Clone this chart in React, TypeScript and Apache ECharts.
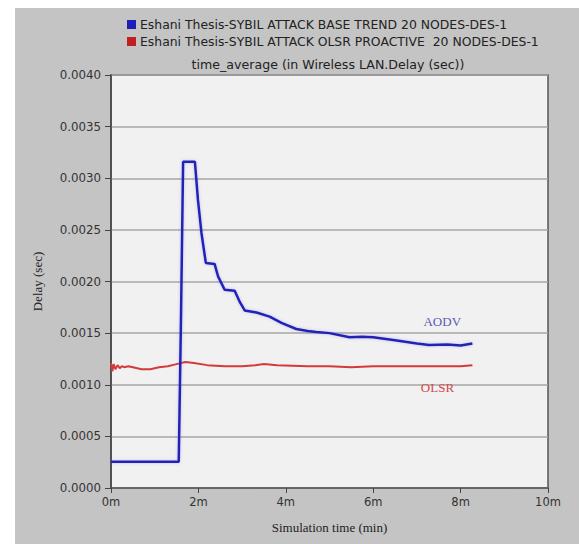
import React, { useEffect, useRef } from "react";
import * as echarts from "echarts";

const legendNames = [
  "Eshani Thesis-SYBIL ATTACK BASE TREND 20 NODES-DES-1",
  "Eshani Thesis-SYBIL ATTACK OLSR PROACTIVE  20 NODES-DES-1",
];
const chartTitle = "time_average (in Wireless LAN.Delay (sec))";
const xAxisName = "Simulation time (min)";
const yAxisName = "Delay (sec)";

const aodvTimes = [0, 1.55, 1.6, 1.65, 1.92, 1.99, 2.07, 2.17, 2.37, 2.45, 2.6, 2.83, 2.95, 3.06, 3.33, 3.63, 3.9, 4.24, 4.5, 4.7, 5.0, 5.46, 5.75, 6.0, 6.5, 7.0, 7.28, 7.7, 8.0, 8.27];
const aodvDelay = [0.000255, 0.000255, 0.0016, 0.00316, 0.00316, 0.00279, 0.00247, 0.00218, 0.00217, 0.00205, 0.00192, 0.00191, 0.0018, 0.00172, 0.0017, 0.00166, 0.0016, 0.00154, 0.00152, 0.00151, 0.0015, 0.00146, 0.001466, 0.00146, 0.00143, 0.0014, 0.001385, 0.00139, 0.00138, 0.0014];

const olsrTimes = [0, 0.03, 0.06, 0.1, 0.15, 0.2, 0.25, 0.3, 0.4, 0.5, 0.7, 0.9, 1.1, 1.3, 1.5, 1.7, 1.9, 2.2, 2.6, 3.0, 3.3, 3.5, 3.8, 4.5, 5.0, 5.5, 6.0, 7.0, 8.0, 8.27];
const olsrDelay = [0.00121, 0.00113, 0.0012, 0.00115, 0.00119, 0.00116, 0.00118, 0.00117, 0.00118, 0.00117, 0.00115, 0.00115, 0.00117, 0.00118, 0.0012, 0.00122, 0.00121, 0.00119, 0.00118, 0.00118, 0.00119, 0.0012, 0.00119, 0.00118, 0.00118, 0.00117, 0.00118, 0.00118, 0.00118, 0.00119];

const aodvLabel = { text: "AODV", t: 7.58, v: 0.001608 };
const olsrLabel = { text: "OLSR", t: 7.47, v: 0.000969 };

const serif = "'Liberation Serif', 'Times New Roman', serif";
const sans = "'DejaVu Sans', Arial, sans-serif";

export default function App() {
  const ref = useRef<HTMLDivElement>(null);
  useEffect(() => {
    if (!ref.current) return;
    const chart = echarts.init(ref.current, null, { renderer: "svg" });
    const aodvData = aodvTimes.map((t, i) => [t, aodvDelay[i]]);
    const olsrData = olsrTimes.map((t, i) => [t, olsrDelay[i]]);
    chart.setOption({
      animation: false,
      backgroundColor: "#ffffff",
      graphic: [
        {
          type: "rect",
          z: -10,
          shape: { x: 15, y: 8, width: 564, height: 536 },
          style: { fill: "#c4c4c4" },
        },
      ],
      title: {
        text: chartTitle,
        left: 328,
        top: 58,
        padding: 0,
        textAlign: "center",
        textStyle: { fontFamily: sans, fontSize: 12.6, fontWeight: "normal", color: "#222" },
      },
      legend: {
        orient: "vertical",
        left: 127,
        top: 18,
        padding: 0,
        itemWidth: 9,
        itemHeight: 9,
        itemGap: 4,
        icon: "rect",
        data: legendNames,
        textStyle: { fontFamily: sans, fontSize: 12.4, color: "#222", lineHeight: 13, padding: [0, 0, 0, -1] },
      },
      grid: {
        left: 111,
        right: 31,
        top: 75,
        bottom: 56,
        show: true,
        backgroundColor: "#f1f1f1",
        borderColor: "#555",
        borderWidth: 1.5,
      },
      xAxis: {
        type: "value",
        min: 0,
        max: 10,
        interval: 2,
        name: xAxisName,
        nameLocation: "middle",
        nameGap: 33,
        nameTextStyle: { fontFamily: serif, fontSize: 13, color: "#222" },
        axisLine: { show: true, lineStyle: { color: "#555", width: 1.5 } },
        axisTick: { show: true, length: 5, lineStyle: { color: "#444" } },
        axisLabel: {
          fontFamily: sans,
          fontSize: 11.5,
          color: "#333",
          margin: 8,
          formatter: (v: number) => `${v}m`,
        },
        splitLine: { show: false },
      },
      yAxis: {
        type: "value",
        min: 0,
        max: 0.004,
        interval: 0.0005,
        name: yAxisName,
        nameLocation: "middle",
        nameGap: 67,
        nameTextStyle: { fontFamily: serif, fontSize: 13, color: "#222" },
        axisLine: { show: true, lineStyle: { color: "#444", width: 1.5 } },
        axisTick: { show: true, length: 6, lineStyle: { color: "#444" } },
        axisLabel: {
          fontFamily: sans,
          fontSize: 11.8,
          color: "#333",
          margin: 10,
          formatter: (v: number) => v.toFixed(4),
        },
        splitLine: { show: true, lineStyle: { color: "#a6a6a6", width: 1.5 } },
      },
      series: [
        {
          name: legendNames[0],
          type: "line",
          data: aodvData,
          showSymbol: false,
          symbol: "none",
          color: "#1f1fb8",
          lineStyle: { color: "#2424b4", width: 2.5, shadowColor: "rgba(90,90,255,0.35)", shadowBlur: 3 },
          z: 3,
          markPoint: {
            symbol: "circle",
            symbolSize: 0,
            data: [
              {
                coord: [aodvLabel.t, aodvLabel.v],
                label: {
                  show: true,
                  position: "inside",
                  formatter: aodvLabel.text,
                  fontFamily: serif,
                  fontSize: 13,
                  color: "#5a5ab4",
                },
              },
            ],
          },
        },
        {
          name: legendNames[1],
          type: "line",
          data: olsrData,
          showSymbol: false,
          symbol: "none",
          color: "#c02020",
          lineStyle: { color: "#d43a3a", width: 2 },
          z: 2,
          markPoint: {
            symbol: "circle",
            symbolSize: 0,
            data: [
              {
                coord: [olsrLabel.t, olsrLabel.v],
                label: {
                  show: true,
                  position: "inside",
                  formatter: olsrLabel.text,
                  fontFamily: serif,
                  fontSize: 13,
                  color: "#d44a4a",
                },
              },
            ],
          },
        },
      ],
    });
    return () => chart.dispose();
  }, []);
  return (
    <div
      ref={ref}
      style={{ position: "absolute", left: 0, top: 0, width: 579, height: 544 }}
    />
  );
}
